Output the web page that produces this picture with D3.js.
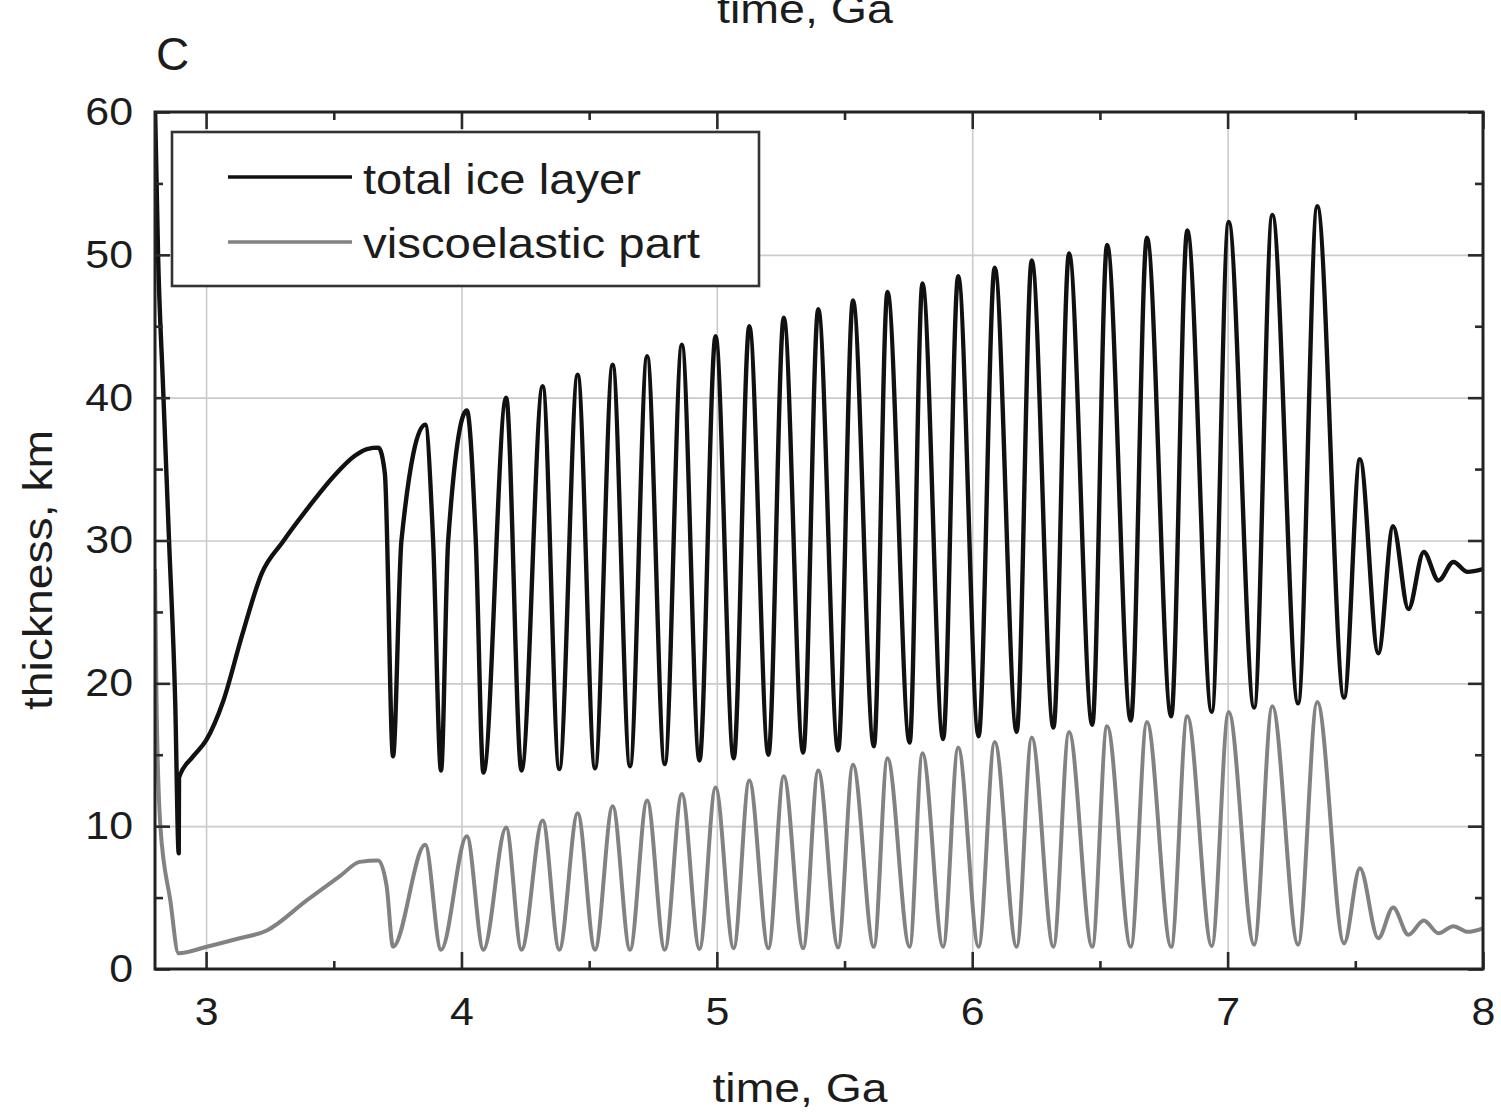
<!DOCTYPE html>
<html lang="en">
    <head>
        <meta charset="utf-8">
        <title>Ice layer thickness</title>
        <script src="https://cdnjs.cloudflare.com/ajax/libs/d3/7.8.5/d3.min.js"></script>
        <style>
            body { margin: 0; background: #fff; }
            svg text { font-family: "Liberation Sans", Arial, Helvetica, sans-serif; fill: #1c1c1c; }
            .grid line { stroke: #cbcbcb; stroke-width: 1.6; }
            .grid path { display: none; }
            .axis path { display: none; }
            .axis line { stroke: #2a2a2a; stroke-width: 2.6; }
        </style>
    </head>
    <body>
        <svg width="1501" height="1113"></svg>
        <script type="text/javascript">
            // values: time in Ga, thickness in km
            var totalTime = [2.800, 2.812, 2.831, 2.855, 2.879, 2.893, 2.894, 2.950, 3.000, 3.068,
                3.140, 3.218, 3.300, 3.400, 3.500, 3.580, 3.630, 3.675, 3.700,
                3.732, 3.765, 3.858, 3.889, 3.920, 3.948, 4.021, 4.056, 4.086,
                4.175, 4.235, 4.318, 4.383, 4.455, 4.523, 4.592, 4.660, 4.727, 4.796,
                4.863, 4.932, 4.995, 5.066, 5.127, 5.202, 5.262, 5.338, 5.397, 5.475,
                5.533, 5.615, 5.668, 5.755, 5.805, 5.886, 5.945, 6.025, 6.088, 6.174,
                6.233, 6.318, 6.379, 6.470, 6.528, 6.621, 6.684, 6.779, 6.842, 6.938,
                7.004, 7.104, 7.175, 7.276, 7.351, 7.456, 7.518, 7.590, 7.648, 7.708,
                7.768, 7.826, 7.884, 7.940, 8.000];
            var totalKm = [60.5, 50.0, 41.0, 30.0, 18.8, 8.1, 13.4, 14.9, 16.0, 18.8,
                23.3, 27.7, 29.9, 32.3, 34.5, 35.9, 36.4, 36.5, 34.7,
                14.9, 30.0, 38.1, 30.0, 13.9, 30.0, 39.1, 30.0, 13.75,
                40.0, 13.9, 40.8, 14.0, 41.6, 14.05, 42.3, 14.2, 42.9, 14.35,
                43.7, 14.6, 44.3, 14.75, 45.0, 15.0, 45.6, 15.15, 46.2, 15.3,
                46.8, 15.6, 47.4, 15.85, 48.0, 16.1, 48.5, 16.3, 49.1, 16.6,
                49.6, 16.9, 50.1, 17.1, 50.7, 17.4, 51.2, 17.7, 51.7, 18.0,
                52.3, 18.3, 52.8, 18.6, 53.4, 19.0, 35.7, 22.1, 31.0, 25.2,
                29.2, 27.2, 28.5, 27.8, 28.0];

            var viscoTime = [2.800, 2.806, 2.821, 2.860, 2.892, 3.003, 3.120, 3.238, 3.394, 3.524,
                3.602, 3.674, 3.707, 3.732,
                3.858, 3.920, 4.021, 4.086, 4.175, 4.235, 4.318, 4.383, 4.455, 4.523,
                4.592, 4.660, 4.727, 4.796, 4.863, 4.932, 4.995, 5.066, 5.127, 5.202,
                5.262, 5.338, 5.397, 5.475, 5.533, 5.615, 5.668, 5.755, 5.805, 5.886,
                5.945, 6.025, 6.088, 6.174, 6.233, 6.318, 6.379, 6.470, 6.528, 6.621,
                6.684, 6.779, 6.842, 6.938, 7.004, 7.104, 7.175, 7.276, 7.351, 7.456,
                7.518, 7.590, 7.648, 7.708, 7.768, 7.826, 7.884, 7.940, 8.000];
            var viscoKm = [28.0, 18.8, 10.0, 4.8, 1.1, 1.56, 2.1, 2.7, 4.8, 6.5,
                7.5, 7.6, 5.8, 1.56,
                8.7, 1.35, 9.3, 1.35, 9.9, 1.35, 10.4, 1.35, 10.9, 1.35,
                11.4, 1.35, 11.8, 1.35, 12.25, 1.4, 12.7, 1.45, 13.2, 1.45,
                13.5, 1.45, 13.9, 1.5, 14.3, 1.55, 14.75, 1.55, 15.1, 1.55,
                15.5, 1.55, 15.9, 1.55, 16.2, 1.55, 16.6, 1.55, 17.0, 1.55,
                17.3, 1.55, 17.7, 1.6, 18.0, 1.7, 18.4, 1.7, 18.7, 1.8,
                7.05, 2.15, 4.3, 2.4, 3.4, 2.5, 3.0, 2.6, 2.85];

            var seriesNames = ["total ice layer", "viscoelastic part"];
            var xTicks = [3, 4, 5, 6, 7, 8];
            var xMinorTicks = [3.5, 4.5, 5.5, 6.5, 7.5];
            var yTicks = [0, 10, 20, 30, 40, 50, 60];
            var yMinorTicks = [5, 15, 25, 35, 45, 55];

            var svg = d3.select("svg"),
                margin = {top: 112, right: 18, bottom: 144, left: 155},
                width = +svg.attr("width") - margin.left - margin.right,
                height = +svg.attr("height") - margin.top - margin.bottom;

            var x = d3.scaleLinear().domain([2.8, 8]).range([0, width]);
            var y = d3.scaleLinear().domain([0, 60]).range([height, 0]);

            var g = svg.append("g")
                .attr("transform", "translate(" + margin.left + "," + margin.top + ")");

            g.append("clipPath").attr("id", "plot")
              .append("rect").attr("width", width).attr("height", height);

            // grid
            g.append("g").attr("class", "grid")
              .attr("transform", "translate(0," + height + ")")
              .call(d3.axisBottom(x).tickValues(xTicks.slice(0, -1)).tickSize(-height).tickFormat(""));
            g.append("g").attr("class", "grid")
              .call(d3.axisLeft(y).tickValues(yTicks.slice(1, -1)).tickSize(-width).tickFormat(""));

            // lines
            var line = d3.line()
                .x(function(d) { return x(d[0]); })
                .y(function(d) { return y(d[1]); })
                .curve(d3.curveMonotoneX);

            g.append("path")
              .datum(d3.zip(viscoTime, viscoKm))
              .attr("clip-path", "url(#plot)")
              .attr("fill", "none")
              .attr("stroke", "#828282")
              .attr("stroke-width", 4)
              .attr("stroke-linejoin", "round")
              .attr("d", line);

            g.append("path")
              .datum(d3.zip(totalTime, totalKm))
              .attr("clip-path", "url(#plot)")
              .attr("fill", "none")
              .attr("stroke", "#111")
              .attr("stroke-width", 4.4)
              .attr("stroke-linejoin", "round")
              .attr("d", line);

            // axes, ticks pointing inside
            function ticks(axis, values, size, labels) {
                return axis.tickValues(values).tickSize(-size).tickSizeOuter(0)
                    .tickFormat(labels ? d3.format("d") : "");
            }
            var bottom = g.append("g").attr("class", "axis")
              .attr("transform", "translate(0," + height + ")")
              .call(ticks(d3.axisBottom(x), xTicks, 17, true).tickPadding(28));
            g.append("g").attr("class", "axis")
              .attr("transform", "translate(0," + height + ")")
              .call(ticks(d3.axisBottom(x), xMinorTicks, 8, false));
            g.append("g").attr("class", "axis")
              .call(ticks(d3.axisTop(x), xTicks, 17, false));
            g.append("g").attr("class", "axis")
              .call(ticks(d3.axisTop(x), xMinorTicks, 8, false));
            var left = g.append("g").attr("class", "axis")
              .call(ticks(d3.axisLeft(y), yTicks, 15, true).tickPadding(22));
            g.append("g").attr("class", "axis")
              .call(ticks(d3.axisLeft(y), yMinorTicks, 8, false));
            g.append("g").attr("class", "axis")
              .attr("transform", "translate(" + width + ",0)")
              .call(ticks(d3.axisRight(y), yTicks, 15, false));
            g.append("g").attr("class", "axis")
              .attr("transform", "translate(" + width + ",0)")
              .call(ticks(d3.axisRight(y), yMinorTicks, 8, false));

            bottom.selectAll("text").attr("font-size", 39).attr("fill", "#1c1c1c");
            left.selectAll("text").attr("font-size", 39).attr("fill", "#1c1c1c");

            // frame
            g.append("rect")
              .attr("width", width)
              .attr("height", height)
              .attr("fill", "none")
              .attr("stroke", "#222")
              .attr("stroke-width", 3);

            // legend
            var legend = g.append("g").attr("transform", "translate(17,20)");
            legend.append("rect")
              .attr("width", 587)
              .attr("height", 154)
              .attr("fill", "#fff")
              .attr("stroke", "#333")
              .attr("stroke-width", 2.6);
            var legendColors = ["#111", "#828282"];
            seriesNames.forEach(function(name, i) {
                legend.append("line")
                  .attr("x1", 56).attr("x2", 180)
                  .attr("y1", 45 + i * 65).attr("y2", 45 + i * 65)
                  .attr("stroke", legendColors[i])
                  .attr("stroke-width", 3.6);
                legend.append("text")
                  .attr("x", 191)
                  .attr("y", 62 + i * 64)
                  .attr("font-size", 42)
                  .attr("textLength", i == 0 ? 278 : 337)
                  .attr("lengthAdjust", "spacingAndGlyphs")
                  .text(name);
            });

            // axis titles
            svg.append("text")
              .attr("x", 800)
              .attr("y", 1102)
              .attr("text-anchor", "middle")
              .attr("font-size", 40)
              .attr("textLength", 175)
              .attr("lengthAdjust", "spacingAndGlyphs")
              .text("time, Ga");

            svg.append("text")
              .attr("transform", "translate(52,570) rotate(-90)")
              .attr("text-anchor", "middle")
              .attr("font-size", 41)
              .attr("textLength", 280)
              .attr("lengthAdjust", "spacingAndGlyphs")
              .text("thickness, km");

            // title of the panel above, cut by the edge as in the original, and the panel letter
            svg.append("text")
              .attr("x", 805)
              .attr("y", 23)
              .attr("text-anchor", "middle")
              .attr("font-size", 40)
              .attr("textLength", 176)
              .attr("lengthAdjust", "spacingAndGlyphs")
              .text("time, Ga");

            svg.append("text")
              .attr("x", 156)
              .attr("y", 70)
              .attr("font-size", 46)
              .text("C");

            // tick labels look slightly wide in the original
            svg.selectAll(".axis text").each(function() {
                d3.select(this)
                  .attr("textLength", this.getComputedTextLength() * 1.1)
                  .attr("lengthAdjust", "spacingAndGlyphs");
            });
        </script>
    </body>
</html>
